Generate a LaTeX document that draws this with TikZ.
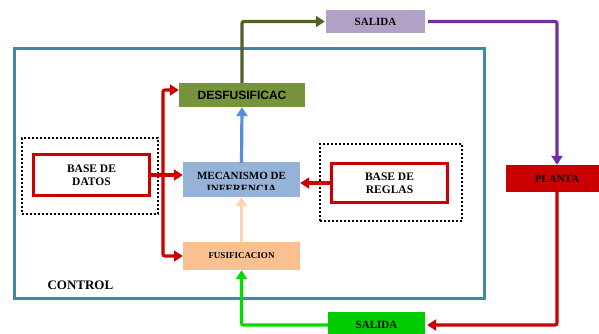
\documentclass[tikz,border=0pt]{standalone}
\usepackage{fontspec}
\setmainfont{Liberation Serif}
\newfontfamily\arialfont{Liberation Sans}
\usetikzlibrary{arrows.meta}
\definecolor{teal1}{RGB}{62,140,162}
\definecolor{myred}{RGB}{204,0,0}
\definecolor{olivebox}{RGB}{119,147,60}
\definecolor{oliveline}{RGB}{79,98,40}
\definecolor{lavender}{RGB}{178,161,199}
\definecolor{mypurple}{RGB}{112,48,160}
\definecolor{brightgreen}{RGB}{0,204,0}
\definecolor{linegreen}{RGB}{0,220,0}
\definecolor{peach}{RGB}{250,192,144}
\definecolor{lightpeach}{RGB}{252,213,180}
\definecolor{bluebox}{RGB}{149,179,215}
\definecolor{bluearrow}{RGB}{85,142,213}
\tikzset{
  blk/.style={rectangle, inner sep=0pt, align=center},
  conn/.style={line width=3.2pt, -{Triangle[length=9pt,width=11pt]}, rounded corners=2pt},
  dotbox/.style={draw=black, line width=2pt, dotted},
}
\begin{document}
\begin{tikzpicture}[x=1pt,y=-1pt]
\useasboundingbox (0,0) rectangle (599,333);
\fill[white] (0,0) rectangle (599,333);
% control frame
\node[draw=teal1, line width=3pt, minimum width=470pt, minimum height=250pt, inner sep=0pt] (control) at (249,173) {};
\node[font=\bfseries\fontsize{13}{13}\selectfont, anchor=west] (ctl) at (44,285) {CONTROL};
% dotted groups
\node[dotbox, minimum width=136pt, minimum height=76pt, inner sep=0pt] (gleft) at (90,176) {};
\node[dotbox, minimum width=142pt, minimum height=77pt, inner sep=0pt] (gright) at (391,182.5) {};
% blocks
\node[blk, draw=myred, line width=3.5pt, fill=white, minimum width=116pt, minimum height=41pt, font=\bfseries\fontsize{11.5}{13}\selectfont] (datos) at (91.5,175) {BASE DE\\DATOS};
\node[blk, draw=myred, line width=3.5pt, fill=white, minimum width=116pt, minimum height=39pt, font=\bfseries\fontsize{11.5}{13}\selectfont] (reglas) at (389.5,183) {BASE DE\\REGLAS};
\node[blk, fill=olivebox, minimum width=126pt, minimum height=24pt, font=\arialfont\bfseries\fontsize{12}{12}\selectfont] (desf) at (242,95) {DESFUSIFICAC};
\node[blk, fill=bluebox, minimum width=117pt, minimum height=35pt] (meca) at (241.5,179.5) {};
\begin{scope}
\clip (183,162) rectangle (300,189);
\node[font=\bfseries\fontsize{11}{13}\selectfont, align=center, inner sep=0pt] (mecatext) at (241.5,182.5) {MECANISMO DE\\INFERENCIA};
\end{scope}
\node[blk, fill=peach, minimum width=117pt, minimum height=28pt, font=\bfseries\fontsize{9}{9}\selectfont] (fusi) at (241.5,256) {FUSIFICACION};
\node[blk, fill=lavender, minimum width=99pt, minimum height=23pt, font=\bfseries\fontsize{11}{11}\selectfont] (sal1) at (375.5,21.5) {SALIDA};
\node[blk, fill=myred, minimum width=102pt, minimum height=27pt, font=\bfseries\fontsize{11}{11}\selectfont] (planta) at (557,178.5) {PLANTA};
\node[blk, fill=brightgreen, minimum width=97pt, minimum height=26pt, font=\bfseries\fontsize{11}{11}\selectfont] (sal2) at (376.5,325) {SALIDA};
% connectors
\coordinate (trunk) at (163,175);
\draw[conn, draw=oliveline, shorten >=1pt] (desf.north) |- (sal1.west);
\draw[conn, draw=mypurple] ([xshift=3pt]sal1.east) -| (planta.north);
\draw[conn, draw=myred, shorten >=2pt] (planta.south) |- (sal2.east);
\draw[conn, draw=linegreen] (sal2.west) -| (fusi.south);
\draw[conn, draw=lightpeach] (fusi.north) -- (meca.south);
\draw[conn, draw=bluearrow] ([yshift=-1pt]meca.north) -- (desf.south);
\draw[conn, draw=myred] (datos.east) -- (trunk -| meca.west);
\draw[conn, draw=myred] (trunk) |- ([yshift=5pt]desf.west);
\draw[conn, draw=myred] (trunk) |- (fusi.west);
\draw[conn, draw=myred] (reglas.west) -- (reglas.west -| meca.east);
\end{tikzpicture}
\end{document}
